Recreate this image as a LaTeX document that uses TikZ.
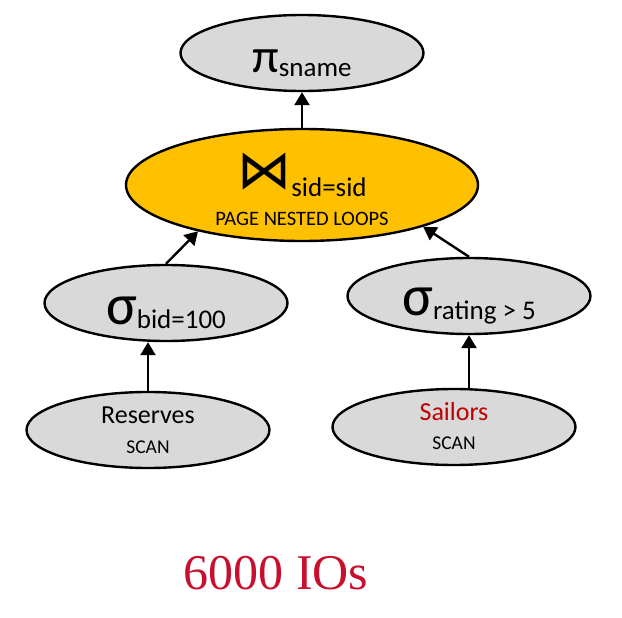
\documentclass[tikz,border=0pt]{standalone}
\usepackage{fontspec}
\setmainfont{Carlito}
\newfontfamily\symfont{DejaVu Sans}
\newfontfamily\serfont{Liberation Serif}
\usetikzlibrary{shapes.geometric,arrows.meta}
\definecolor{opgray}{RGB}{217,217,217}
\definecolor{joinorange}{RGB}{255,192,0}
\definecolor{relred}{RGB}{192,0,0}
\definecolor{costred}{RGB}{200,16,46}
% text line placed #1 below the centre of its ellipse
\newcommand{\txtat}[2]{\raisebox{-#1}[0pt][0pt]{#2}}
\newcommand{\opsym}[4]{\txtat{#1}{\fontsize{#2}{0}\selectfont #3%
        \raisebox{-4pt}{\fontsize{27}{0}\selectfont #4}}}
\begin{document}
\begin{tikzpicture}[x=1pt, y=-1pt, line join=round,
        op/.style={ellipse, draw, line width=2.4pt, fill=opgray, inner sep=0pt,
        minimum width=243pt, minimum height=76pt, align=center,
        font=\fontsize{20}{0}\selectfont},
        arr/.style={-{Triangle[length=13pt,width=15pt]}, line width=2.4pt}]
        \useasboundingbox (0,0) rectangle (622,618);
        % operator tree
        \node[op] (proj) at (302,53) {\opsym{20pt}{48}{π}{sname}};
        \node[op, fill=joinorange, minimum width=352pt, minimum height=112pt] (join)
        at (302,185) {\txtat{4pt}{{\symfont\fontsize{54}{0}\selectfont ⋈}%
        \raisebox{-8pt}{\fontsize{27}{0}\selectfont sid=sid}}\\
        \txtat{40pt}{\fontsize{20.5}{0}\selectfont PAGE NESTED LOOPS}};
        \node[op] (selbid) at (166,303) {\opsym{21pt}{58}{σ}{bid=100}};
        \node[op] (selrating) at (469,296) {\opsym{19pt}{58}{σ}{rating > 5}};
        \node[op] (reserves) at (148,430)
        {\txtat{-7pt}{\fontsize{26}{0}\selectfont Reserves}\\
        \txtat{23pt}{\fontsize{19.5}{0}\selectfont SCAN}};
        \node[op] (sailors) at (454,427)
        {\txtat{-7pt}{\fontsize{26}{0}\selectfont\color{relred}Sailors}\\
        \txtat{22pt}{\fontsize{19.5}{0}\selectfont SCAN}};
        % data flow
        \draw[arr] (join.north) -- (proj.south);
        \draw[arr] (selbid.north) -- (join.204);
        \draw[arr] (selrating.north) -- (join.341);
        \draw[arr] (reserves.north) -- (reserves.north |- selbid.south);
        \draw[arr] (selrating.south |- sailors.north) -- (selrating.south);
        \node[text=costred, font=\serfont\fontsize{50}{50}\selectfont] (cost) at (276,573)
        {6000 IOs};
\end{tikzpicture}
\end{document}
